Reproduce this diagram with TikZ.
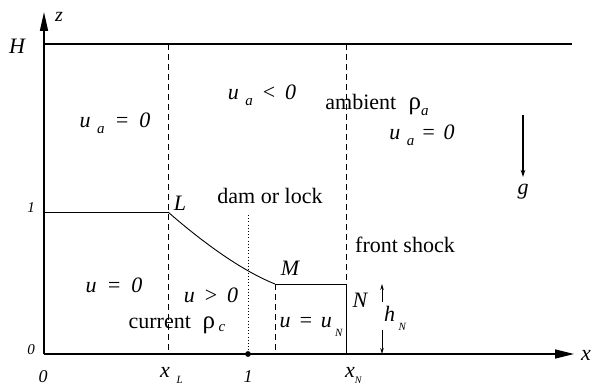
\documentclass[tikz,border=0pt]{standalone}
\usepackage{fontspec}
\setmainfont{Liberation Serif}
\usetikzlibrary{arrows.meta}
\newcommand\lowsub[2][-0.6ex]{\raisebox{#1}{\fontsize{15}{15}\selectfont #2}}
\newcommand\gp{\hspace{0.45em}}
\newcommand\rh{{\fontsize{25}{25}\selectfont ρ}}
\begin{document}
\begin{tikzpicture}[x=1pt,y=1pt,
  lbl/.style={font=\fontsize{22}{24}\selectfont\itshape, inner sep=0pt},
  txt/.style={font=\fontsize{22}{24}\selectfont, inner sep=0pt},
  small/.style={font=\fontsize{15}{17}\selectfont\itshape, inner sep=0pt},
  mid/.style={font=\fontsize{18}{20}\selectfont\itshape, inner sep=0pt},
  axisline/.style={line width=1.6pt},
  thinline/.style={line width=0.9pt},
  dashline/.style={line width=0.7pt, dash pattern=on 6pt off 4pt},
  dotline/.style={line width=0.8pt, dash pattern=on 0.8pt off 2.4pt}]
\useasboundingbox (0,0) rectangle (593,385);
% coordinates
\coordinate (O) at (44,31);
\coordinate (Ztop) at (44,373);
\coordinate (Xend) at (574,31);
\coordinate (Hl) at (44,341);
\coordinate (Hr) at (572,341);
\coordinate (one) at (44,173);
\coordinate (L) at (168,173);
\coordinate (M) at (275,101);
\coordinate (N) at (346,101);
\coordinate (LH) at (168,341);
\coordinate (LB) at (168,31);
\coordinate (NH) at (346,341);
\coordinate (NB) at (346,31);
\coordinate (MB) at (275,31);
\coordinate (D) at (248,31);
\coordinate (Dt) at (248,170);
\coordinate (hT) at (382,101);
\coordinate (hTa) at (382,83);
\coordinate (hB) at (382,31);
\coordinate (hBa) at (382,55);
\coordinate (gT) at (523,270);
\coordinate (gB) at (523,208);
% lines
\draw[axisline,-{Triangle[length=19pt,width=9pt]}] (O) -- (Xend);
\draw[axisline,-{Triangle[length=19pt,width=8pt]}] (O) -- (Ztop);
\draw[axisline] (Hl) -- (Hr);
\draw[thinline] (one) -- (L);
\draw[thinline] (L) .. controls (200,145) and (240,115) .. (M);
\draw[thinline] (M) -- (N) -- (NB);
\draw[dashline] (LH) -- (LB);
\draw[dashline] (NH) -- (N);
\draw[dashline] (M) -- (MB);
\draw[dotline] (Dt) -- (D);
\fill (D) circle (2.9pt);
\draw[thinline,-{Stealth[length=6pt,width=3.5pt]}] (hTa) -- (hT);
\draw[thinline,-{Stealth[length=6pt,width=3.5pt]}] (hBa) -- (hB);
\draw[line width=1.2pt,-{Stealth[length=7pt,width=4.5pt]}] (gT) -- (gB);
% labels
\node[lbl, font=\fontsize{20}{22}\selectfont\itshape] (zl) at (59,368) {z};
\node[lbl] (Hlab) at (17,339) {H};
\node[small] (one1) at (31,177) {1};
\node[small] (zero1) at (31,35) {0};
\node[mid, anchor=base] (zero2) at (43,3) {0};
\node[lbl, anchor=base west] (xL) at (160,8) {x\hspace{0.3em}\raisebox{-6.5pt}{\fontsize{11}{11}\selectfont L}};
\node[mid, anchor=base] (oneb) at (248,3) {1};
\node[lbl, anchor=base west] (xN) at (345,8) {x\raisebox{-6.5pt}{\fontsize{10}{10}\selectfont N}};
\node[lbl] (xlab) at (586,30) {x};
\node[lbl] (ua1) at (115,262) {u\hspace{0.3em}\lowsub{a}\gp=\gp0};
\node[lbl] (ua2) at (262,290) {u\hspace{0.3em}\lowsub{a}\gp{\upshape <}\gp0};
\node[txt] (amb) at (377,280) {ambient\;\;\rh\lowsub[-0.5ex]{\itshape a}};
\node[lbl] (ua3) at (422,250) {u\hspace{0.3em}\lowsub{a}\hspace{0.3em}=\hspace{0.35em}0};
\node[lbl] (Llab) at (180,182) {L};
\node[txt] (dam) at (270,189) {dam or lock};
\node[txt] (front) at (405,140) {front shock};
\node[lbl] (Mlab) at (290,117) {M};
\node[lbl] (Nlab) at (360,85) {N};
\node[lbl] (u0) at (114,100) {u\gp=\gp0};
\node[lbl] (upos) at (211,90) {u\gp{\upshape >}\gp0};
\node[txt] (cur) at (177,60) {current\; \rh\,\lowsub[-0.3ex]{\itshape c}};
\node[lbl] (uN) at (311,58) {u\hspace{0.35em}=\hspace{0.35em}u\hspace{0.15em}\raisebox{-0.9ex}{\fontsize{11}{11}\selectfont N}};
\node[lbl] (hN) at (395,67) {h\,\raisebox{-0.9ex}{\fontsize{11}{11}\selectfont N}};
\node[lbl] (glab) at (523,193) {g};
\end{tikzpicture}
\end{document}
